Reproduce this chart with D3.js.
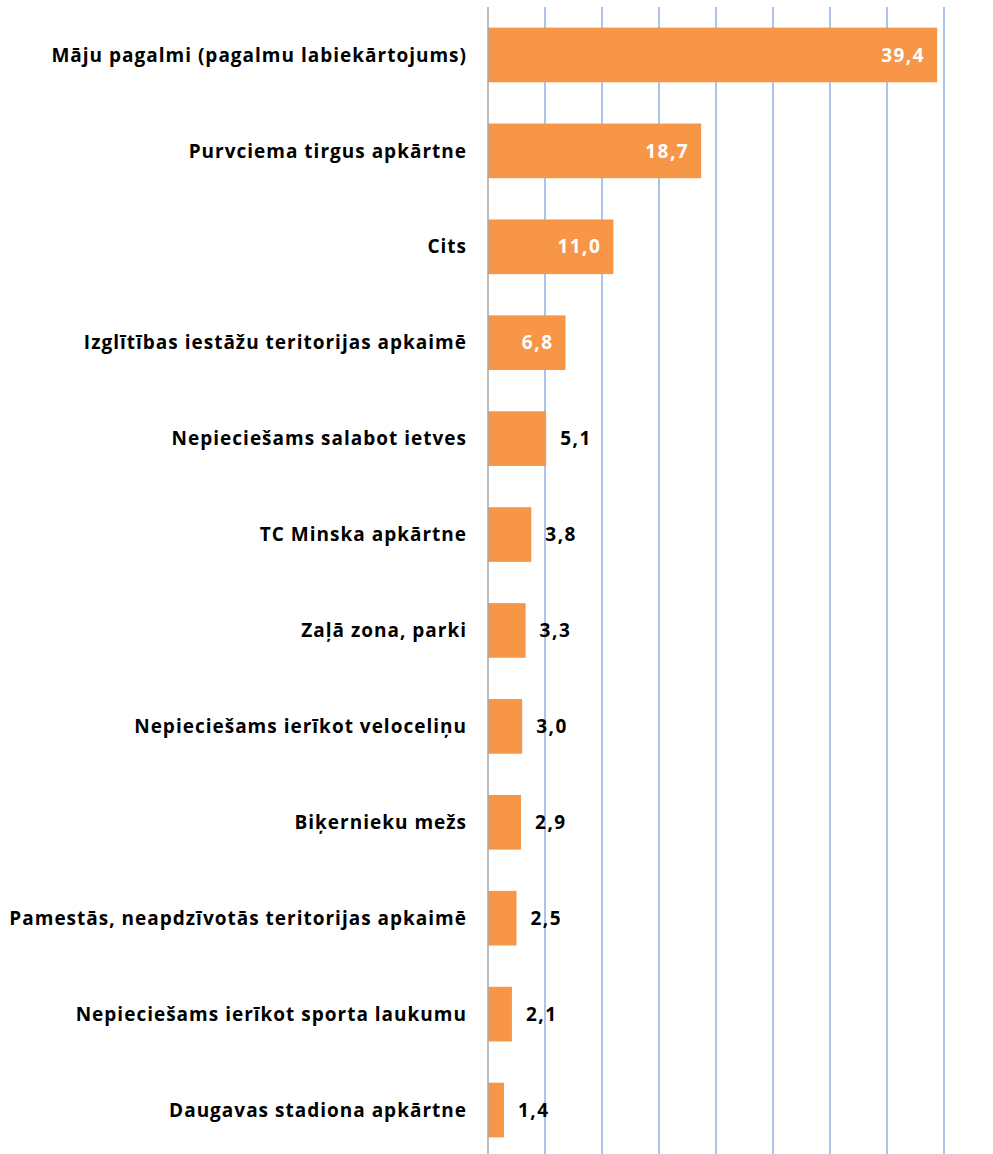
<!DOCTYPE html>
<html>
<head>
  <meta charset="utf-8">
  <title>Bar chart</title>
  <script src="https://d3js.org/d3.v7.min.js"></script>
  <style>
    body { margin: 0; background: #fff; }
    text { font-family: "Open Sans", Lato, sans-serif; font-weight: bold; }
  </style>
</head>
<body>
  <svg width="993" height="1154"></svg>
  <script>
    const categories = [
      'Māju pagalmi (pagalmu labiekārtojums)',
      'Purvciema tirgus apkārtne',
      'Cits',
      'Izglītības iestāžu teritorijas apkaimē',
      'Nepieciešams salabot ietves',
      'TC Minska apkārtne',
      'Zaļā zona, parki',
      'Nepieciešams ierīkot veloceliņu',
      'Biķernieku mežs',
      'Pamestās, neapdzīvotās teritorijas apkaimē',
      'Nepieciešams ierīkot sporta laukumu',
      'Daugavas stadiona apkārtne'
    ];
    const values = [39.4, 18.7, 11.0, 6.8, 5.1, 3.8, 3.3, 3.0, 2.9, 2.5, 2.1, 1.4];
    const gridTicks = [5, 10, 15, 20, 25, 30, 35, 40];

    const svg = d3.select('svg');
    const data = categories.map((c, i) => ({ name: c, value: values[i] }));

    const x = d3.scaleLinear().domain([0, 40]).range([488, 944]);
    const y = d3.scaleBand()
      .domain(categories)
      .range([7, 1158])
      .paddingInner(0.43)
      .paddingOuter(0.215);

    const fmt = v => d3.format('.1f')(v).replace('.', ',');

    // gridlines
    svg.append('g')
      .selectAll('line')
      .data(gridTicks)
      .enter().append('line')
        .attr('x1', d => x(d)).attr('x2', d => x(d))
        .attr('y1', 7).attr('y2', 1154)
        .attr('stroke', '#adc3ea')
        .attr('stroke-width', 2);

    // bars
    svg.append('g')
      .selectAll('rect')
      .data(data)
      .enter().append('rect')
        .attr('x', x(0))
        .attr('y', d => y(d.name))
        .attr('width', d => x(d.value) - x(0))
        .attr('height', y.bandwidth())
        .attr('fill', '#f79646');

    // axis line
    svg.append('line')
      .attr('x1', x(0)).attr('x2', x(0))
      .attr('y1', 7).attr('y2', 1154)
      .attr('stroke', '#a6a6a6')
      .attr('stroke-width', 1.5);

    // category labels
    svg.append('g')
      .selectAll('text')
      .data(data)
      .enter().append('text')
        .attr('x', x(0) - 21)
        .attr('y', d => y(d.name) + y.bandwidth() / 2)
        .attr('dy', '0.35em')
        .attr('text-anchor', 'end')
        .attr('font-size', 19)
        .attr('letter-spacing', 1)
        .attr('fill', '#000')
        .text(d => d.name);

    // value labels
    svg.append('g')
      .selectAll('text')
      .data(data)
      .enter().append('text')
        .attr('x', d => d.value > 6 ? x(d.value) - 12 : x(d.value) + 14)
        .attr('y', d => y(d.name) + y.bandwidth() / 2)
        .attr('dy', '0.35em')
        .attr('text-anchor', d => d.value > 6 ? 'end' : 'start')
        .attr('font-size', 19)
        .attr('letter-spacing', 1.5)
        .attr('fill', d => d.value > 6 ? '#fff' : '#000')
        .text(d => fmt(d.value));
  </script>
</body>
</html>
